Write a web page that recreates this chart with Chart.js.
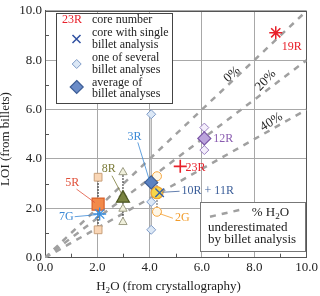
<!DOCTYPE html>
<html><head><meta charset="utf-8">
<script src="https://cdn.jsdelivr.net/npm/chart.js@4/dist/chart.umd.min.js"></script>
<style>html,body{margin:0;padding:0;background:#fff}#wrap{width:320px;height:296px;position:relative}</style>
</head><body><div id="wrap"><canvas id="c" width="320" height="296"></canvas></div>
<script>
// ---------------- data ----------------
const tickValues = [0, 2, 4, 6, 8, 10];
const minorTickValues = [1, 3, 5, 7, 9];
const underestimatePct = [0, 20, 40];

const multiCores = ['12R', '3R', '2G', '8R', '5R'];
const multiH2O   = [6.09, 4.06, 4.28, 2.98, 2.03];
const loi12R = [5.27, 4.36];
const loi3R  = [5.81, 2.26, 1.13];
const loi2G  = [3.30, 2.70, 1.86];
const loi8R  = [3.46, 2.55, 2.40, 1.98, 1.44];
const loi5R  = [3.26, 1.13];
const billetLOI = [loi12R, loi3R, loi2G, loi8R, loi5R];
const avgLOI = [4.83, 3.05, 2.63, 2.40, 2.17];

const singleCores = ['19R', '23R', '10R + 11R', '7G'];
const singleH2O   = [8.82, 5.17, 4.38, 2.09];
const singleLOI   = [9.11, 3.70, 2.63, 1.77];

// ---------------- styles ----------------
const SERIF = '"Liberation Serif","Times New Roman",serif';
const multiStyle = {
  '12R': {shape:'rectRot', r:4.5, ar:6.5, line:'#9a80c2', fill:'#f4eefb', aFill:'#bba3dc', aLine:'#7a55a6', conn:'#9a9a9a', dash:[1.5,1.5], label:'#8a5cb0'},
  '3R':  {shape:'rectRot', r:4.5, ar:6.5, line:'#7f9cc8', fill:'#dce8f6', aFill:'#5b82c2', aLine:'#3d5e96', conn:'#a8a8a8', dash:[], label:'#3c8ad6'},
  '2G':  {shape:'circle',  r:4.5, ar:6,   line:'#f5a742', fill:'#fff7e6', aFill:'#f7d64a', aLine:'#f0a030', conn:'#555', dash:[1.5,1.5], label:'#f29c2b'},
  '8R':  {shape:'triangle',r:4.8, ar:7.5, line:'#9c9c84', fill:'#f0f0dc', aFill:'#7a8440', aLine:'#4b5520', conn:'#222', dash:[1.5,1.5], label:'#7c7c3a'},
  '5R':  {shape:'rect',    r:5.5, ar:8.5, line:'#c9a07a', fill:'#f9d6b6', aFill:'#f28a4a', aLine:'#d8602a', conn:'#222', dash:[1.5,1.5], label:'#e0503a'}
};
const singleStyle = {
  '19R':       {shape:'star',     r:6.5, color:'#e8202a', w:1.5, label:'#e8202a'},
  '23R':       {shape:'cross',    r:6.5, color:'#e8202a', w:1.6, label:'#e8202a'},
  '10R + 11R': {shape:'crossRot', r:6,   color:'#3560a8', w:1.4, label:'#3c5f9a'},
  '7G':        {shape:'star',     r:6.5, color:'#3a8fe0', w:1.3, label:'#3a88d6'}
};
// label placement (pixel offsets from the anchor mark)
const labelLayout = {
  '19R':       {anchor:'pt',  tx:6,     ty:13.7, align:'left'},
  '23R':       {anchor:'pt',  tx:5.3,   ty:1,    align:'left'},
  '10R + 11R': {anchor:'pt',  tx:22,    ty:-1.5, align:'left',   lead:[3,-0.5,20,-1.5]},
  '7G':        {anchor:'pt',  tx:-33.3, ty:2.7,  align:'center', lead:[-3.3,0.7,-25,2.7]},
  '12R':       {anchor:'avg', tx:9,     ty:0,    align:'left'},
  '3R':        {anchor:'avg', tx:-16.7, ty:-45.7,align:'center', lead:[-1.7,-1.7,-13.4,-40]},
  '2G':        {anchor:'min', tx:18,    ty:5.7,  align:'left',   lead:[3,2,16,6.5]},
  '8R':        {anchor:'avg', tx:-14.3, ty:-29.7,align:'center', lead:[-1.6,-5,-11,-22.7]},
  '5R':        {anchor:'avg', tx:-25.8, ty:-20.8,align:'center', lead:[-3.3,-1.6,-21.6,-15]}
};
const guideLabelLayout = [
  {at:7.27, dx:-3.2, dy:-3.8, rot:43},
  {at:8.64, dx:-5.3, dy:-6.6, rot:47},
  {at:8.78, dx:-3.3, dy:-5.7, rot:32}
];

// ---------------- datasets ----------------
const datasets = [];
underestimatePct.forEach(p => {
  datasets.push({
    type:'line', data:[{x:0,y:0},{x:10,y:10*(1-p/100)}],
    borderColor:'#a0a0a0', borderWidth:2.5, borderDash:[6,6], pointRadius:0, order:100
  });
});
multiCores.forEach((c, i) => {
  const s = multiStyle[c];
  datasets.push({
    data: billetLOI[i].map(v => ({x:multiH2O[i], y:v})),
    showLine:true, borderColor:s.conn, borderWidth:1.3, borderDash:s.dash,
    pointStyle:s.shape, pointRadius:s.r, pointBackgroundColor:s.fill,
    pointBorderColor:s.line, pointBorderWidth:1, order:20
  });
  datasets.push({
    data:[{x:multiH2O[i], y:avgLOI[i]}],
    pointStyle:s.shape, pointRadius:s.ar, pointBackgroundColor:s.aFill,
    pointBorderColor:s.aLine, pointBorderWidth:1.2, order:10
  });
});
singleCores.forEach((c, i) => {
  const s = singleStyle[c];
  datasets.push({
    data:[{x:singleH2O[i], y:singleLOI[i]}],
    pointStyle:s.shape, pointRadius:s.r, pointBorderColor:s.color,
    pointBackgroundColor:s.color, pointBorderWidth:s.w, order:5
  });
});

// ---------------- helpers ----------------
function drawSubText(ctx, parts, x, y, size, align) {
  let total = 0;
  const widths = parts.map(([t, sub]) => {
    ctx.font = (sub ? size*0.7 : size) + 'px ' + SERIF;
    const w = ctx.measureText(t).width; total += w; return w;
  });
  let cx = align === 'center' ? x - total/2 : x;
  ctx.textAlign = 'left'; ctx.textBaseline = 'middle';
  parts.forEach(([t, sub], k) => {
    ctx.font = (sub ? size*0.7 : size) + 'px ' + SERIF;
    ctx.fillText(t, cx, y + (sub ? size*0.28 : 0));
    cx += widths[k];
  });
  return total;
}
function diamond(ctx, x, y, r, fill, stroke, lw) {
  ctx.beginPath(); ctx.moveTo(x, y-r); ctx.lineTo(x+r, y); ctx.lineTo(x, y+r); ctx.lineTo(x-r, y); ctx.closePath();
  ctx.fillStyle = fill; ctx.fill(); ctx.lineWidth = lw; ctx.strokeStyle = stroke; ctx.stroke();
}

const annot = {
  id:'annot',
  beforeDatasetsDraw(chart) {
    const {ctx, chartArea:a, scales:{x:xs, y:ys}} = chart;
    ctx.save();
    ctx.strokeStyle = '#555'; ctx.lineWidth = 1;
    ctx.strokeRect(Math.round(a.left)+0.5, Math.round(a.top)+0.5, Math.round(a.right-a.left)-1, Math.round(a.bottom-a.top)-1);
    ctx.beginPath();
    minorTickValues.forEach(v => {
      const px = Math.round(xs.getPixelForValue(v)) + 0.5;
      ctx.moveTo(px, a.bottom); ctx.lineTo(px, a.bottom - 4);
      const py = Math.round(ys.getPixelForValue(v)) + 0.5;
      ctx.moveTo(a.left, py); ctx.lineTo(a.left + 4, py);
    });
    ctx.stroke();
    ctx.restore();
  },
  afterDatasetsDraw(chart) {
    const {ctx, scales:{x:xs, y:ys}} = chart;
    ctx.save();
    ctx.fillStyle = '#222';
    underestimatePct.forEach((p, i) => {
      const g = guideLabelLayout[i];
      const px = xs.getPixelForValue(g.at) + g.dx;
      const py = ys.getPixelForValue(g.at*(1-p/100)) + g.dy;
      ctx.save(); ctx.translate(px, py); ctx.rotate(-g.rot*Math.PI/180);
      ctx.font = '13px ' + SERIF; ctx.textAlign = 'center'; ctx.textBaseline = 'middle';
      ctx.fillText(p + '%', 0, 0);
      ctx.restore();
    });
    const anchors = {};
    multiCores.forEach((c, i) => {
      const L = labelLayout[c];
      const v = L.anchor === 'avg' ? avgLOI[i] : Math.min(...billetLOI[i]);
      anchors[c] = [xs.getPixelForValue(multiH2O[i]), ys.getPixelForValue(v), multiStyle[c].label];
    });
    singleCores.forEach((c, i) => {
      anchors[c] = [xs.getPixelForValue(singleH2O[i]), ys.getPixelForValue(singleLOI[i]), singleStyle[c].label];
    });
    Object.keys(labelLayout).forEach(c => {
      const L = labelLayout[c]; const [ax, ay, col] = anchors[c];
      if (L.lead) {
        ctx.beginPath(); ctx.strokeStyle = col; ctx.lineWidth = 0.8;
        ctx.moveTo(ax + L.lead[0], ay + L.lead[1]); ctx.lineTo(ax + L.lead[2], ay + L.lead[3]); ctx.stroke();
      }
      ctx.fillStyle = col; ctx.font = '12px ' + SERIF;
      ctx.textAlign = L.align; ctx.textBaseline = 'middle';
      ctx.fillText(c, ax + L.tx, ay + L.ty);
    });
    ctx.restore();
  },
  afterDraw(chart) {
    const {ctx} = chart;
    ctx.save();
    // legend 1
    ctx.fillStyle = '#fff'; ctx.fillRect(56, 13, 116, 90);
    ctx.strokeStyle = '#444'; ctx.lineWidth = 1; ctx.strokeRect(56.5, 13.5, 116, 90);
    ctx.textAlign = 'left'; ctx.textBaseline = 'middle';
    ctx.font = '12px ' + SERIF; ctx.fillStyle = '#e8202a'; ctx.fillText('23R', 62, 20);
    ctx.fillStyle = '#222';
    const legLines = [['core number',20],['core with single',32.5],['billet analysis',44.5],['one of several',58],['billet analyses',70],['average of',82.5],['billet analyses',94]];
    legLines.forEach(([t, y]) => ctx.fillText(t, 92, y));
    ctx.strokeStyle = '#2e4fa0'; ctx.lineWidth = 1.5; ctx.beginPath();
    ctx.moveTo(72.5, 35); ctx.lineTo(80.5, 43); ctx.moveTo(80.5, 35); ctx.lineTo(72.5, 43); ctx.stroke();
    diamond(ctx, 76.7, 64, 4.5, '#dce8f6', '#7f9cc8', 1);
    diamond(ctx, 76.7, 87, 6.5, '#6b8cc8', '#3d5e96', 1.2);
    // legend 2
    ctx.fillStyle = '#fff'; ctx.fillRect(200, 202, 105, 49);
    ctx.strokeStyle = '#777'; ctx.lineWidth = 1; ctx.strokeRect(200.5, 202.5, 105, 49);
    ctx.strokeStyle = '#a0a0a0'; ctx.lineWidth = 2.5; ctx.setLineDash([6,6]);
    ctx.beginPath(); ctx.moveTo(210, 216.7); ctx.lineTo(244, 209); ctx.stroke(); ctx.setLineDash([]);
    ctx.fillStyle = '#222';
    drawSubText(ctx, [['% H',false],['2',true],['O',false]], 251.7, 213, 13, 'left');
    ctx.font = '13px ' + SERIF; ctx.textAlign = 'left'; ctx.textBaseline = 'middle';
    ctx.fillText('underestimated', 208, 228);
    ctx.fillText('by billet analysis', 208, 240);
    // axis titles
    ctx.fillStyle = '#222';
    drawSubText(ctx, [['H',false],['2',true],['O (from crystallography)',false]], 168.5, 286.7, 13, 'center');
    ctx.save(); ctx.translate(6, 139); ctx.rotate(-Math.PI/2);
    ctx.font = '13px ' + SERIF; ctx.textAlign = 'center'; ctx.textBaseline = 'middle';
    ctx.fillText('LOI (from billets)', 0, 0);
    ctx.restore();
    ctx.restore();
  }
};

const tickFont = {family: SERIF, size: 13};
new Chart(document.getElementById('c'), {
  type:'scatter',
  data:{datasets},
  options:{
    animation:false, responsive:false, devicePixelRatio:1,
    layout:{padding:{top:7, right:12.3, left:0, bottom:0}},
    plugins:{legend:{display:false}, tooltip:{enabled:false}},
    scales:{
      x:{type:'linear', min:0, max:10,
         afterBuildTicks(s){ s.ticks = tickValues.map(v => ({value:v})); },
         ticks:{callback:v => v.toFixed(1), font:tickFont, color:'#222', padding:2, maxRotation:0, autoSkip:false},
         grid:{color:'#a8a8a8', lineWidth:1, drawTicks:false},
         border:{color:'#555', width:1},
         afterFit(s){ s.height = 38.3; }},
      y:{type:'linear', min:0, max:10,
         afterBuildTicks(s){ s.ticks = tickValues.map(v => ({value:v})); },
         ticks:{callback:v => v.toFixed(1), font:tickFont, color:'#222', padding:3, autoSkip:false},
         grid:{color:'#a8a8a8', lineWidth:1, drawTicks:false},
         border:{color:'#555', width:1},
         afterFit(s){ s.width = 45; }}
    }
  },
  plugins:[annot]
});
</script>
</body></html>
